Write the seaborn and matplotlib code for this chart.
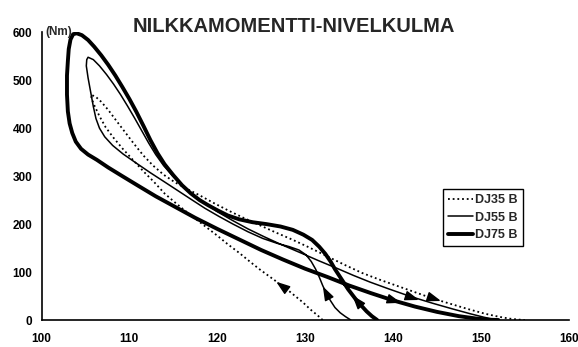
import numpy as np
import pandas as pd
import matplotlib
matplotlib.use("Agg")
import matplotlib.pyplot as plt
from matplotlib.lines import Line2D
from matplotlib.markers import MarkerStyle
from matplotlib.path import Path
import seaborn as sns

# Ankle moment (Nm) against joint angle (deg), one loop per jump
series_names = ["DJ35 B", "DJ55 B", "DJ75 B"]

angle_dj35 = [132.0, 131.4, 130.6, 129.8, 129.0, 128.2, 127.4, 126.6, 125.7, 124.8,
              123.7, 122.5, 121.2, 120.0, 118.8, 117.6, 116.4, 115.2, 114.0, 112.8,
              111.6, 110.4, 109.2, 108.2, 107.3, 106.6, 106.0, 105.7, 105.65, 106.2,
              106.8, 107.6, 108.5, 109.5, 110.5, 111.6, 112.7, 113.9, 115.2, 116.6,
              118.0, 119.6, 121.3, 123.0, 124.8, 126.6, 128.5, 130.5, 132.5, 134.5,
              136.5, 138.5, 140.5, 142.5, 144.5, 146.5, 148.5, 150.5, 152.0, 153.2,
              154.2, 155.0]
moment_dj35 = [0, 10, 22, 36, 48, 60, 70, 82, 94, 106,
               122, 140, 158, 176, 193, 210, 227, 245, 264, 288,
               310, 334, 358, 380, 402, 425, 448, 462, 470, 465,
               455, 438, 416, 392, 368, 343, 322, 303, 287, 273,
               260, 244, 228, 213, 198, 183, 168, 151, 133, 115,
               98, 84, 71, 58, 45, 34, 23, 13, 7, 3,
               1, 0]

angle_dj55 = [135.2, 134.6, 134.0, 133.4, 132.9, 132.4, 132.0, 131.6, 131.2, 130.7,
              130.1, 129.3, 128.2, 126.8, 125.2, 123.5, 121.8, 120.2, 118.6, 117.0,
              115.5, 114.0, 112.4, 110.8, 109.3, 108.1, 107.2, 106.6, 106.2, 105.9,
              105.6, 105.3, 105.1, 105.15, 105.3, 105.9, 106.6, 107.4, 108.2, 109.0,
              109.8, 110.6, 111.4, 112.2, 113.0, 113.9, 114.9, 116.0, 117.2, 118.5,
              120.0, 121.7, 123.5, 125.3, 127.2, 129.5, 131.5, 133.6, 135.5, 137.4,
              139.5, 142.0, 144.5, 146.8, 148.8, 150.3, 151.3, 152.0]
moment_dj55 = [0, 7, 15, 26, 40, 56, 72, 90, 106, 122,
               136, 146, 153, 160, 170, 184, 200, 216, 233, 252,
               270, 288, 307, 327, 346, 364, 382, 400, 420, 445,
               475, 505, 530, 543, 548, 543, 530, 512, 492, 470,
               446, 421, 395, 369, 345, 322, 301, 281, 262, 245,
               226, 208, 190, 174, 158, 140, 124, 108, 93, 79,
               65, 49, 35, 23, 13, 6, 2, 0]

angle_dj75 = [138.2, 137.6, 137.0, 136.4, 135.9, 135.4, 134.9, 134.4, 133.9, 133.4,
              132.9, 132.3, 131.6, 130.8, 129.8, 128.6, 127.2, 125.6, 124.0, 122.5,
              121.2, 120.0, 119.0, 118.0, 117.0, 116.0, 115.0, 114.0, 113.2, 112.4,
              111.6, 110.8, 110.0, 109.2, 108.4, 107.6, 106.8, 106.0, 105.3, 104.6,
              104.0, 103.6, 103.3, 103.1, 103.0, 102.9, 102.9, 103.0, 103.2, 103.5,
              103.9, 104.5, 105.3, 106.3, 107.6, 109.2, 111.0, 113.0, 115.2, 117.5,
              120.0, 122.5, 125.0, 127.5, 130.0, 132.5, 135.0, 137.5, 140.0, 142.5,
              145.0, 147.5, 149.5, 151.0, 152.0]
moment_dj75 = [0, 8, 18, 30, 40, 52, 64, 78, 92, 106,
               122, 138, 153, 167, 178, 188, 195, 200, 204, 210,
               218, 229, 239, 250, 264, 281, 302, 325, 348, 375,
               405, 434, 461, 486, 510, 532, 552, 570, 584, 594,
               598, 596, 585, 565, 540, 510, 470, 435, 410, 390,
               372, 357, 345, 334, 318, 300, 280, 258, 236, 213,
               190, 168, 146, 126, 107, 90, 72, 56, 41, 28,
               17, 8, 3, 0.5, 0]

# direction arrows sit on these points of each loop
arrows_dj35 = [(127.4, 70), (144.5, 45)]
arrows_dj55 = [(132.4, 56), (142.0, 49)]
arrows_dj75 = [(135.9, 40), (140.0, 41)]

x_ticks = [100, 110, 120, 130, 140, 150, 160]
y_ticks = [0, 100, 200, 300, 400, 500, 600]
title = "NILKKAMOMENTTI-NIVELKULMA"
unit_label = "(Nm)"

sns.set_style("white")
plt.rcParams["font.family"] = ["Liberation Sans", "DejaVu Sans"]
plt.rcParams["font.weight"] = "bold"

fig = plt.figure(figsize=(5.78, 3.47), dpi=100)
ax = fig.add_axes([0.0718, 0.0778, 0.9121, 0.8291])

line_styles = {
    "DJ35 B": dict(linewidth=1.3, linestyle=(0, (1, 1.6))),
    "DJ55 B": dict(linewidth=1.1, linestyle="-"),
    "DJ75 B": dict(linewidth=2.8, linestyle="-"),
}
series = {
    "DJ35 B": (angle_dj35, moment_dj35, arrows_dj35),
    "DJ55 B": (angle_dj55, moment_dj55, arrows_dj55),
    "DJ75 B": (angle_dj75, moment_dj75, arrows_dj75),
}

for name in series_names:
    xs, ys, _ = series[name]
    df = pd.DataFrame({"angle": xs, "moment": ys})
    sns.lineplot(data=df, x="angle", y="moment", sort=False, estimator=None,
                 ax=ax, color="black", solid_joinstyle="round",
                 **line_styles[name])

ax.set_xlim(100, 160)
ax.set_ylim(0, 600)
ax.set_xticks(x_ticks)
ax.set_yticks(y_ticks)
ax.set_xlabel("")
ax.set_ylabel("")
sns.despine(ax=ax)
for side in ("left", "bottom"):
    ax.spines[side].set_color("black")
    ax.spines[side].set_linewidth(1.2)
ax.tick_params(axis="both", direction="inout", length=7, width=1.0,
               colors="black", labelsize=8.5)
ax.tick_params(axis="x", pad=6)
ax.tick_params(axis="y", pad=3)
for lbl in ax.get_xticklabels() + ax.get_yticklabels():
    lbl.set_fontweight("bold")

# arrow heads oriented along each loop
head_path = Path([(1.0, 0.0), (-1.0, 0.7), (-1.0, -0.7), (1.0, 0.0)],
                 [Path.MOVETO, Path.LINETO, Path.LINETO, Path.CLOSEPOLY])
for name in series_names:
    xs, ys, marks = series[name]
    pts = np.column_stack([xs, ys]).astype(float)
    for mx, my in marks:
        d = ((pts[:, 0] - mx) / 60.0) ** 2 + ((pts[:, 1] - my) / 600.0) ** 2
        i = int(np.argmin(d))
        i0, i1 = max(i - 1, 0), min(i + 1, len(pts) - 1)
        a = ax.transData.transform(pts[i0])
        b = ax.transData.transform(pts[i1])
        ang = np.degrees(np.arctan2(b[1] - a[1], b[0] - a[0]))
        ax.plot([mx], [my], linestyle="none", color="black",
                marker=MarkerStyle(head_path).rotated(deg=ang),
                markersize=8.5, clip_on=False)

ax.text(100.4, 600, unit_label, ha="left", va="center", fontsize=8.5,
        fontweight="bold")

fig.text(0.509, 0.9086, title, ha="center", va="baseline", fontsize=14.5,
         fontweight="bold")

handles = [Line2D([0], [0], color="black", **line_styles[n]) for n in series_names]
leg = ax.legend(handles, series_names, loc="upper left",
                bbox_to_anchor=(0.7616, 0.4553), frameon=True, fancybox=False,
                edgecolor="black", framealpha=1, fontsize=9, handlelength=2.0,
                handletextpad=0.15, labelspacing=0.45, borderpad=0.4,
                borderaxespad=0)
leg.get_frame().set_linewidth(1.0)
for t in leg.get_texts():
    t.set_fontweight("bold")

fig.savefig("out.png", dpi=100)
